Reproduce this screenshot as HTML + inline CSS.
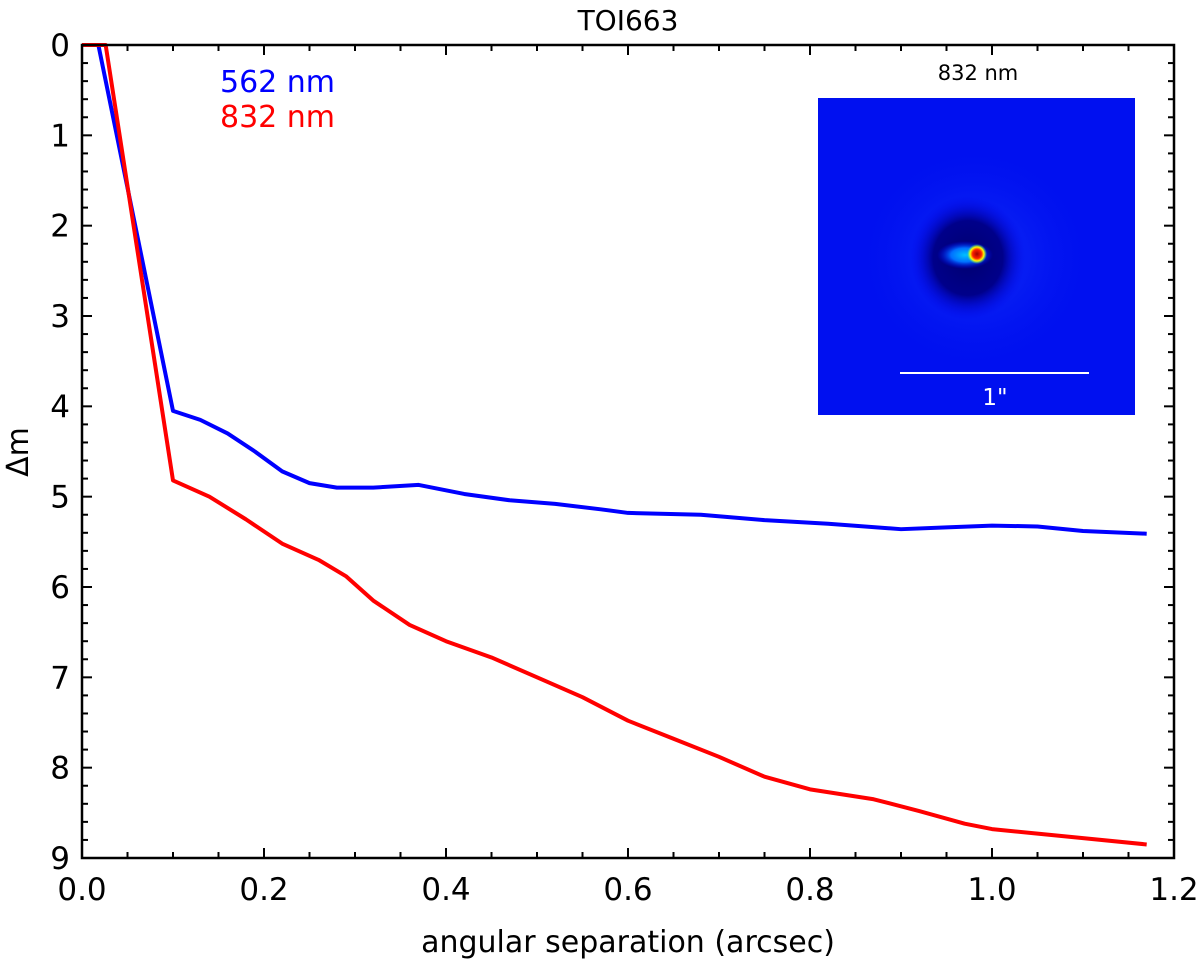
<!DOCTYPE html>
<html><head><meta charset="utf-8"><style>
body{margin:0;background:#fff;}
svg text{font-family:"DejaVu Sans","Liberation Sans",sans-serif;}
</style></head><body>
<svg id="chart" width="1200" height="965" viewBox="0 0 1200 965" xmlns="http://www.w3.org/2000/svg">
<defs>
<radialGradient id="dark" cx="0.5" cy="0.5" r="0.5">
<stop offset="0" stop-color="#000070"/>
<stop offset="0.6" stop-color="#00008a"/>
<stop offset="1" stop-color="#0000f0" stop-opacity="0"/>
</radialGradient>
<radialGradient id="halo" cx="0.5" cy="0.5" r="0.5">
<stop offset="0" stop-color="#00c0ff"/>
<stop offset="0.5" stop-color="#0070ff"/>
<stop offset="1" stop-color="#0000ff" stop-opacity="0"/>
</radialGradient>
<radialGradient id="glow" cx="0.5" cy="0.5" r="0.5">
<stop offset="0" stop-color="#2050ff" stop-opacity="0.6"/>
<stop offset="1" stop-color="#0010f0" stop-opacity="0"/>
</radialGradient>
<radialGradient id="core" cx="0.5" cy="0.5" r="0.5">
<stop offset="0" stop-color="#a00000"/>
<stop offset="0.45" stop-color="#ff2000"/>
<stop offset="0.7" stop-color="#ffff00"/>
<stop offset="1" stop-color="#40ff80" stop-opacity="0"/>
</radialGradient>
</defs>
<text x="628" y="30" font-size="28" text-anchor="middle">TOI663</text>
<g id="axes"></g>
<g id="inset">
<text x="978" y="80" font-size="21" text-anchor="middle">832 nm</text>
<rect x="818" y="98" width="317" height="317" fill="#0010f0"/>
<ellipse cx="975" cy="258" rx="120" ry="115" fill="url(#glow)"/>
<ellipse cx="968" cy="258" rx="58" ry="62" fill="url(#dark)"/>
<ellipse cx="965" cy="255" rx="28" ry="14" fill="url(#halo)"/>
<circle cx="977" cy="254" r="10" fill="url(#core)"/>
<line x1="900" y1="373" x2="1089" y2="373" stroke="#fff" stroke-width="2"/>
<text x="995" y="405" font-size="23" fill="#fff" text-anchor="middle">1"</text>
</g>
<text x="220" y="92" font-size="30" fill="#0000ff">562 nm</text>
<text x="220" y="127" font-size="30" fill="#ff0000">832 nm</text>
<text x="628" y="952" font-size="30" text-anchor="middle">angular separation (arcsec)</text>
<text transform="translate(28,452) rotate(-90)" font-size="30" text-anchor="middle">Δm</text>
</svg>
<script>
const xTicks=[0,0.2,0.4,0.6,0.8,1.0,1.2];
const xTickLabels=["0.0","0.2","0.4","0.6","0.8","1.0","1.2"];
const yTicks=[0,1,2,3,4,5,6,7,8,9];
const blueX=[0,0.018,0.1,0.13,0.16,0.19,0.22,0.25,0.28,0.32,0.37,0.42,0.47,0.52,0.57,0.6,0.68,0.75,0.82,0.9,0.95,1.0,1.05,1.1,1.17];
const blueY=[0,0,4.05,4.15,4.3,4.5,4.72,4.85,4.9,4.9,4.87,4.97,5.04,5.08,5.14,5.18,5.2,5.26,5.3,5.36,5.34,5.32,5.33,5.38,5.41];
const redX=[0,0.026,0.1,0.14,0.18,0.22,0.26,0.29,0.32,0.36,0.4,0.45,0.5,0.55,0.6,0.65,0.7,0.75,0.8,0.87,0.92,0.97,1.0,1.05,1.1,1.17];
const redY=[0,0,4.82,5.0,5.25,5.52,5.7,5.88,6.15,6.42,6.6,6.78,7.0,7.22,7.48,7.68,7.88,8.1,8.24,8.35,8.48,8.62,8.68,8.73,8.78,8.85];
const L=82,R=1174,T=45,B=858;
const xs=v=>L+v/1.2*(R-L);
const ys=v=>T+v/9*(B-T);
const NS="http://www.w3.org/2000/svg";
const g=document.getElementById('axes');
function mk(tag,a,parent){const e=document.createElementNS(NS,tag);for(const k in a)e.setAttribute(k,a[k]);(parent||g).appendChild(e);return e;}
function series(xv,yv,color,name){
  const p=mk('polyline',{points:xv.map((x,i)=>xs(x)+','+ys(yv[i])).join(' '),fill:'none',stroke:color,'stroke-width':4,'stroke-linejoin':'round'});
  
  
}
series(blueX,blueY,'#0000ff','series-562nm');
series(redX,redY,'#ff0000','series-832nm');
const frame=mk('rect',{x:L,y:T,width:R-L,height:B-T,fill:'none',stroke:'#000','stroke-width':2.5});


for(let i=0;i<=24;i++){const x=xs(i*0.05);const major=i%4===0;const len=major?10:6;
  mk('line',{x1:x,y1:B,x2:x,y2:B-len,stroke:'#000','stroke-width':2});
  mk('line',{x1:x,y1:T,x2:x,y2:T+len,stroke:'#000','stroke-width':2});}
for(let i=0;i<=45;i++){const y=ys(i*0.2);const major=i%5===0;const len=major?10:6;
  mk('line',{x1:L,y1:y,x2:L+len,y2:y,stroke:'#000','stroke-width':2});
  mk('line',{x1:R,y1:y,x2:R-len,y2:y,stroke:'#000','stroke-width':2});}
xTicks.forEach((v,i)=>{const t=mk('text',{x:xs(v),y:B+42,'font-size':31,'text-anchor':'middle'});t.textContent=xTickLabels[i];
  
  });
yTicks.forEach(v=>{const t=mk('text',{x:L-12,y:ys(v)+11,'font-size':31,'text-anchor':'end'});t.textContent=String(v);
  
  });
</script>
</body></html>
